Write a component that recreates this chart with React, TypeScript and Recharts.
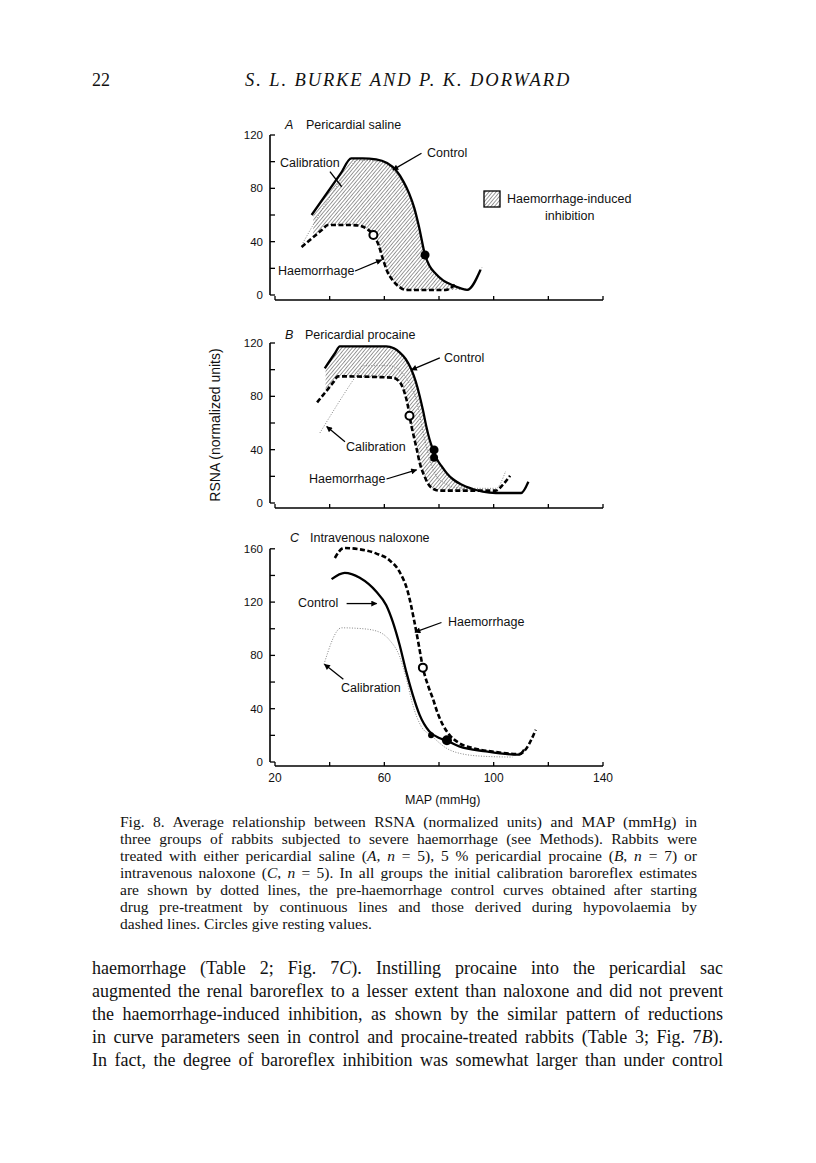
import { ComposedChart, Line, Area, Scatter, XAxis, YAxis, ReferenceLine } from 'recharts';

// MAP (mmHg) vs RSNA (normalized units)
const xTicks = [20, 40, 60, 80, 100, 120, 140];
const xLabelled = [20, 60, 100, 140];
const yTicksAB = [0, 20, 40, 60, 80, 100, 120];
const yTicksC = [0, 20, 40, 60, 80, 100, 120, 140, 160];
const yLabelled = [0, 40, 80, 120, 160];

// A  Pericardial saline
const calibrationA = [
  { x: 30.2, v: 39 }, { x: 47, v: 94 }, { x: 49.9, v: 101 }, { x: 57, v: 100.5 }, { x: 61, v: 97.5 },
  { x: 64.2, v: 92 }, { x: 67, v: 83 }, { x: 69.1, v: 74 }, { x: 71, v: 62 }, { x: 72.7, v: 49 },
  { x: 75, v: 28 }, { x: 77, v: 20 }, { x: 79, v: 15 }, { x: 82, v: 10 }, { x: 85, v: 7 },
  { x: 90, v: 4.5 }, { x: 95.8, v: 21 },
];
const controlA = [
  { x: 33.4, v: 60 }, { x: 44, v: 91 }, { x: 47.9, v: 102.5 }, { x: 52, v: 102.5 }, { x: 57, v: 101.8 },
  { x: 61, v: 99 }, { x: 64.2, v: 93.7 }, { x: 67, v: 85 }, { x: 69.1, v: 76 }, { x: 71, v: 65 },
  { x: 72.7, v: 51 }, { x: 74.9, v: 30 }, { x: 76.5, v: 22 }, { x: 78.8, v: 16 }, { x: 81.5, v: 11 },
  { x: 84.8, v: 7.5 }, { x: 88, v: 5 }, { x: 90.3, v: 3.8 }, { x: 95.2, v: 19 },
];
const haemorrhageA = [
  { x: 29.7, v: 36 }, { x: 37, v: 48.5 }, { x: 39.4, v: 52.5 }, { x: 47.3, v: 52.5 }, { x: 51, v: 52 },
  { x: 53.3, v: 50 }, { x: 56, v: 45 }, { x: 57.8, v: 38 }, { x: 59.4, v: 27.5 }, { x: 61, v: 18 },
  { x: 63, v: 11.2 }, { x: 65.5, v: 6 }, { x: 67.9, v: 3.8 }, { x: 82.4, v: 3.8 }, { x: 86.5, v: 9 },
];
const bandA = [
  { x: 34, r: [43.3, 61] }, { x: 36, r: [46.7, 67] }, { x: 39.4, r: [52.5, 77] }, { x: 43, r: [52.5, 88] },
  { x: 47.9, r: [52.5, 102.5] }, { x: 53.3, r: [50, 102] }, { x: 56, r: [45, 102] }, { x: 57.8, r: [38, 101] },
  { x: 59.4, r: [27.5, 100] }, { x: 61, r: [18, 99] }, { x: 63, r: [11.2, 96] }, { x: 65.5, r: [6, 90] },
  { x: 67.9, r: [3.8, 81] }, { x: 69.1, r: [3.8, 76] }, { x: 71, r: [3.8, 65] }, { x: 72.7, r: [3.8, 51] },
  { x: 74.9, r: [3.8, 30] }, { x: 76.5, r: [3.8, 22] }, { x: 78.8, r: [3.8, 16] }, { x: 81.5, r: [3.8, 11] },
  { x: 84.8, r: [3.8, 7.5] }, { x: 88, r: [3.8, 5] },
];
const restA = [
  { x: 56, v: 45, open: true, r: 4 },
  { x: 74.9, v: 30, open: false, r: 4.5 },
];

// B  Pericardial procaine
const calibrationB = [
  { x: 36.4, v: 52.5 }, { x: 50.5, v: 98 }, { x: 52.2, v: 103 }, { x: 61.9, v: 103 }, { x: 64.5, v: 101 },
  { x: 67.4, v: 95.5 }, { x: 69.5, v: 88 }, { x: 71.6, v: 78 }, { x: 73.5, v: 60 }, { x: 75.3, v: 43 },
  { x: 77, v: 30 }, { x: 78.9, v: 20.5 }, { x: 82, v: 15 }, { x: 85, v: 12 }, { x: 90, v: 11 },
  { x: 100.8, v: 11 }, { x: 104.4, v: 24 },
];
const controlB = [
  { x: 38.2, v: 101 }, { x: 42, v: 112.5 }, { x: 43.7, v: 117.5 }, { x: 60.7, v: 117.5 }, { x: 63.5, v: 116 },
  { x: 65.6, v: 113 }, { x: 67.8, v: 108 }, { x: 69.8, v: 100.5 }, { x: 71.5, v: 91 }, { x: 72.9, v: 80.5 },
  { x: 74.2, v: 69 }, { x: 75.3, v: 58 }, { x: 76.5, v: 48 }, { x: 77.7, v: 40.5 }, { x: 79.2, v: 33 },
  { x: 80.8, v: 28 }, { x: 83, v: 22 }, { x: 85, v: 18 }, { x: 88, v: 14 }, { x: 92.3, v: 10.5 },
  { x: 96, v: 8.5 }, { x: 100.8, v: 7.5 }, { x: 110, v: 7.5 }, { x: 112.7, v: 16 },
];
const haemorrhageB = [
  { x: 35.4, v: 75.5 }, { x: 41.5, v: 91 }, { x: 43, v: 95 }, { x: 63, v: 94 }, { x: 65, v: 92 },
  { x: 66.2, v: 89 }, { x: 67.5, v: 82 }, { x: 68.6, v: 73 }, { x: 69.2, v: 65.5 }, { x: 70, v: 57 },
  { x: 71, v: 48 }, { x: 72, v: 39 }, { x: 72.9, v: 30.5 }, { x: 74.5, v: 21 }, { x: 76.5, v: 13 },
  { x: 78, v: 10.5 }, { x: 80.1, v: 9.3 }, { x: 100.8, v: 9.3 }, { x: 103.5, v: 14 }, { x: 106, v: 20.5 },
];
const bandB = [
  { x: 38.5, r: [83, 102] }, { x: 41, r: [89, 109.5] }, { x: 43.7, r: [95, 117.5] }, { x: 50, r: [94.5, 117.5] },
  { x: 60.7, r: [94, 117.5] }, { x: 63, r: [94, 116.3] }, { x: 65.6, r: [91, 113] }, { x: 67.5, r: [82, 108.5] },
  { x: 69.2, r: [65.5, 103] }, { x: 70, r: [57, 99.5] }, { x: 71, r: [48, 94] }, { x: 72, r: [39, 87.5] },
  { x: 72.9, r: [30.5, 80.5] }, { x: 74.5, r: [21, 66.5] }, { x: 76.5, r: [13, 48] }, { x: 78, r: [10.5, 39] },
  { x: 80.1, r: [9.3, 30] }, { x: 83, r: [9.3, 22] }, { x: 85, r: [9.3, 18] }, { x: 88, r: [9.3, 14] },
  { x: 92.3, r: [9.3, 10.5] }, { x: 96, r: [8.5, 8.5] },
];
const restB = [
  { x: 69.2, v: 65.5, open: true, r: 4 },
  { x: 78.2, v: 39.8, open: false, r: 4.5 },
  { x: 78.2, v: 34, open: false, r: 4 },
];

// C  Intravenous naloxone
const calibrationC = [
  { x: 37.9, v: 73.3 }, { x: 44.3, v: 100.7 }, { x: 51, v: 100.2 }, { x: 57.1, v: 98.3 }, { x: 61.9, v: 91.5 },
  { x: 65.6, v: 79.1 }, { x: 68, v: 62.8 }, { x: 70.4, v: 42.9 }, { x: 73.5, v: 26.7 }, { x: 77.1, v: 20 },
  { x: 82.6, v: 10.5 }, { x: 88.7, v: 6 }, { x: 97.2, v: 4.2 }, { x: 106.9, v: 3.7 },
];
const controlC = [
  { x: 40.7, v: 137.2 }, { x: 45.5, v: 141.9 }, { x: 51, v: 138.2 }, { x: 57.1, v: 127.7 }, { x: 60.7, v: 117.7 },
  { x: 63.1, v: 105.2 }, { x: 65.6, v: 87.8 }, { x: 68, v: 67.8 }, { x: 70.4, v: 50.4 }, { x: 72.9, v: 35.4 },
  { x: 76.5, v: 22.9 }, { x: 80.1, v: 18 }, { x: 82.9, v: 16 }, { x: 87.4, v: 11.7 }, { x: 97.2, v: 8 },
  { x: 109.3, v: 5.5 }, { x: 111.1, v: 9.2 },
];
const haemorrhageC = [
  { x: 41.9, v: 153.1 }, { x: 45.2, v: 160.6 }, { x: 51, v: 159.6 }, { x: 57.1, v: 156.4 }, { x: 61.9, v: 151.4 },
  { x: 65.6, v: 142.6 }, { x: 68.6, v: 127.7 }, { x: 71, v: 105.2 }, { x: 72.6, v: 87.8 }, { x: 74.1, v: 70.8 },
  { x: 75.9, v: 57.9 }, { x: 77.7, v: 47.9 }, { x: 79.5, v: 36.7 }, { x: 81.4, v: 27.9 }, { x: 83.8, v: 20.4 },
  { x: 87.4, v: 14.2 }, { x: 92.3, v: 10.5 }, { x: 100.8, v: 7.5 }, { x: 109.3, v: 6 }, { x: 111.1, v: 8 },
  { x: 115.4, v: 24.2 },
];
const restC = [
  { x: 74.1, v: 70.8, open: true, r: 4 },
  { x: 82.9, v: 16.3, open: false, r: 5 },
  { x: 77.1, v: 20, open: false, r: 3 },
];

// annotation arrows, data coordinates [MAP, RSNA]
const arrowsA = [
  { from: [73.6, 106.3], to: [63.1, 93.8], head: true },
  { from: [40.1, 92.5], to: [44.4, 81.2], head: false },
  { from: [49.3, 18], to: [59, 26.3], head: true },
];
const arrowsB = [
  { from: [80.3, 108.8], to: [69.9, 99.8], head: true },
  { from: [45.6, 46], to: [38.9, 57.3], head: true },
  { from: [60.8, 18], to: [71.8, 24.8], head: true },
];
const arrowsC = [
  { from: [46.2, 118.9], to: [57.2, 118.9], head: true },
  { from: [80.9, 104.7], to: [71.2, 97.4], head: true },
  { from: [45, 62.1], to: [38.1, 73.3], head: true },
];

const X_MIN = 18.17;
const SANS = '"Liberation Sans", Arial, sans-serif';
const SERIF = '"Liberation Serif", "Times New Roman", serif';

const restShape = (p: any) => (
  <circle
    cx={p.cx}
    cy={p.cy}
    r={p.payload.r}
    fill={p.payload.open ? '#fff' : '#000'}
    stroke="#000"
    strokeWidth={p.payload.open ? 2 : 0}
  />
);

function Hatch({ id }: { id: string }) {
  return (
    <pattern id={id} width="2.7" height="2.7" patternUnits="userSpaceOnUse" patternTransform="rotate(40)">
      <line x1="0" y1="0" x2="0" y2="2.7" stroke="#222" strokeWidth="0.9" />
    </pattern>
  );
}

function Panel({ id, top, height, yDomain, yTicks, xLabels, calibration, control, haemorrhage, band, rest, arrows }: any) {
  const hatchId = `hatch-${id}`;
  const arrowId = `arrow-${id}`;
  const yTop = yDomain[1];
  return (
    <div style={{ position: 'absolute', left: 200, top }}>
      <ComposedChart width={440} height={height} margin={{ top: 20, right: 37, bottom: 5, left: 30 }}>
        <defs>
          <Hatch id={hatchId} />
          <marker id={arrowId} viewBox="0 0 10 10" refX="9" refY="5" markerWidth="8" markerHeight="6"
            markerUnits="userSpaceOnUse" orient="auto">
            <path d="M0,0 L10,5 L0,10 z" fill="#000" />
          </marker>
        </defs>
        <XAxis
          type="number"
          dataKey="x"
          domain={[X_MIN, 140]}
          ticks={xTicks}
          interval={0}
          axisLine={false}
          tickLine={{ stroke: '#000', strokeWidth: 1.3 }}
          tickSize={-4}
          tickMargin={11}
          height={xLabels ? 30 : 10}
          tick={{ fill: '#111', fontSize: 12, fontFamily: SANS }}
          tickFormatter={(v: number) => (xLabels && xLabelled.includes(v) ? String(v) : '')}
        />
        <YAxis
          type="number"
          domain={yDomain}
          ticks={yTicks}
          interval={0}
          width={40}
          axisLine={false}
          tickLine={{ stroke: '#000', strokeWidth: 1.3 }}
          tickSize={-5}
          tickMargin={12}
          tick={{ fill: '#111', fontSize: 11.5, fontFamily: SANS }}
          tickFormatter={(v: number) => (yLabelled.includes(v) ? String(v) : '')}
        />
        <ReferenceLine segment={[{ x: X_MIN, y: 0 }, { x: X_MIN, y: yTop }]} stroke="#000" strokeWidth={1.6} ifOverflow="visible" />
        <ReferenceLine segment={[{ x: 20, y: yDomain[0] }, { x: 140, y: yDomain[0] }]} stroke="#000" strokeWidth={1.6} ifOverflow="visible" />
        {band && (
          <Area data={band} dataKey="r" type="monotone" fill={`url(#${hatchId})`} stroke="none" fillOpacity={1} isAnimationActive={false} />
        )}
        <Line data={calibration} dataKey="v" type="monotone" stroke="#777" strokeWidth={0.9} strokeDasharray="1 1.6" dot={false} isAnimationActive={false} />
        <Line data={control} dataKey="v" type="monotone" stroke="#000" strokeWidth={2.3} dot={false} isAnimationActive={false} />
        <Line data={haemorrhage} dataKey="v" type="monotone" stroke="#000" strokeWidth={2.6} strokeDasharray="5 2.5" dot={false} isAnimationActive={false} />
        <Scatter data={rest} dataKey="v" shape={restShape} isAnimationActive={false} />
        {arrows.map((a: any, i: number) => (
          <ReferenceLine
            key={i}
            segment={[{ x: a.from[0], y: a.from[1] }, { x: a.to[0], y: a.to[1] }]}
            ifOverflow="visible"
            stroke="#000"
            shape={(p: any) => (
              <line x1={p.x1} y1={p.y1} x2={p.x2} y2={p.y2} stroke="#000" strokeWidth={1.3}
                markerEnd={a.head ? `url(#${arrowId})` : undefined} />
            )}
          />
        ))}
      </ComposedChart>
    </div>
  );
}

function T({ x, y, size = 12.5, font = SANS, italic = false, children, style }: any) {
  return (
    <div
      style={{
        position: 'absolute', left: x, top: y, transform: 'translateY(-50%)', whiteSpace: 'nowrap',
        lineHeight: 1, fontSize: size, fontFamily: font, fontStyle: italic ? 'italic' : 'normal', color: '#111',
        ...style,
      }}
    >
      {children}
    </div>
  );
}

const captionLines = [
  'Fig. 8. Average relationship between RSNA (normalized units) and MAP (mmHg) in',
  'three groups of rabbits subjected to severe haemorrhage (see Methods). Rabbits were',
  'treated with either pericardial saline (A, n = 5), 5 % pericardial procaine (B, n = 7) or',
  'intravenous naloxone (C, n = 5). In all groups the initial calibration baroreflex estimates',
  'are shown by dotted lines, the pre-haemorrhage control curves obtained after starting',
  'drug pre-treatment by continuous lines and those derived during hypovolaemia by',
  'dashed lines. Circles give resting values.',
];
const bodyLines = [
  'haemorrhage (Table 2; Fig. 7C). Instilling procaine into the pericardial sac',
  'augmented the renal baroreflex to a lesser extent than naloxone and did not prevent',
  'the haemorrhage-induced inhibition, as shown by the similar pattern of reductions',
  'in curve parameters seen in control and procaine-treated rabbits (Table 3; Fig. 7B).',
  'In fact, the degree of baroreflex inhibition was somewhat larger than under control',
];

function italicize(line: string) {
  // italic letters for group names and n
  const parts = line.split(/(\([ABC],|\bn\b|7C|7B)/);
  return parts.map((s, i) => {
    if (/^\([ABC],$/.test(s)) return <span key={i}>(<i>{s[1]}</i>,</span>;
    if (s === 'n') return <i key={i}>n</i>;
    if (s === '7C' || s === '7B') return <span key={i}>7<i>{s[1]}</i></span>;
    return <span key={i}>{s}</span>;
  });
}

function JLine({ x, y, width, size, last, children }: any) {
  return (
    <div
      style={{
        position: 'absolute', left: x, top: y, width, transform: 'translateY(-50%)', whiteSpace: 'nowrap',
        lineHeight: 1, fontSize: size, fontFamily: SERIF, color: '#111',
        textAlign: last ? 'left' : 'justify', textAlignLast: last ? 'left' : 'justify',
      }}
    >
      {children}
    </div>
  );
}

export default function App() {
  return (
    <div style={{ position: 'absolute', left: 0, top: 0, width: 816, height: 1163, background: '#fff', overflow: 'hidden' }}>
      <T x={92} y={80} size={18} font={SERIF}>22</T>
      <T x={245} y={80} size={18.5} font={SERIF} italic style={{ letterSpacing: 1.9 }}>S. L. BURKE AND P. K. DORWARD</T>

      <Panel id="a" top={115} height={200} yDomain={[-3.75, 120]} yTicks={yTicksAB} xLabels={false}
        calibration={calibrationA} control={controlA} haemorrhage={haemorrhageA} band={bandA} rest={restA} arrows={arrowsA} />
      <Panel id="b" top={323} height={200} yDomain={[-3.75, 120]} yTicks={yTicksAB} xLabels={false}
        calibration={calibrationB} control={controlB} haemorrhage={haemorrhageB} band={bandB} rest={restB} arrows={arrowsB} />
      <Panel id="c" top={528} height={273} yDomain={[-3, 160]} yTicks={yTicksC} xLabels
        calibration={calibrationC} control={controlC} haemorrhage={haemorrhageC} band={null} rest={restC} arrows={arrowsC} />

      {/* panel A texts */}
      <T x={285} y={125} italic>A</T>
      <T x={306} y={125}>Pericardial saline</T>
      <T x={427} y={153}>Control</T>
      <T x={280} y={163}>Calibration</T>
      <T x={278} y={271}>Haemorrhage</T>
      <svg style={{ position: 'absolute', left: 483, top: 190 }} width={18} height={18}>
        <defs>
          <Hatch id="hatch-legend" />
        </defs>
        <rect x={1} y={1} width={16} height={16} fill="url(#hatch-legend)" stroke="#000" strokeWidth={1.3} />
      </svg>
      <T x={507} y={199}>Haemorrhage-induced</T>
      <T x={545} y={216}>inhibition</T>

      {/* panel B texts */}
      <T x={285} y={335} italic>B</T>
      <T x={305} y={335}>Pericardial procaine</T>
      <T x={444} y={358}>Control</T>
      <T x={346} y={447}>Calibration</T>
      <T x={309} y={479}>Haemorrhage</T>

      {/* panel C texts */}
      <T x={290} y={538} italic>C</T>
      <T x={310} y={538}>Intravenous naloxone</T>
      <T x={298} y={603}>Control</T>
      <T x={448} y={622}>Haemorrhage</T>
      <T x={341} y={688}>Calibration</T>
      <T x={405} y={800}>MAP (mmHg)</T>

      <div
        style={{
          position: 'absolute', left: 215, top: 425, transform: 'translate(-50%, -50%) rotate(-90deg)',
          whiteSpace: 'nowrap', fontSize: 14, fontFamily: SANS, color: '#111', lineHeight: 1,
        }}
      >
        RSNA (normalized units)
      </div>

      {captionLines.map((l, i) => (
        <JLine key={i} x={120} y={822 + i * 17} width={577} size={15.5} last={i === captionLines.length - 1}>
          {italicize(l)}
        </JLine>
      ))}
      {bodyLines.map((l, i) => (
        <JLine key={i} x={92} y={968 + i * 23} width={631} size={18} last={false}>
          {italicize(l)}
        </JLine>
      ))}
    </div>
  );
}
